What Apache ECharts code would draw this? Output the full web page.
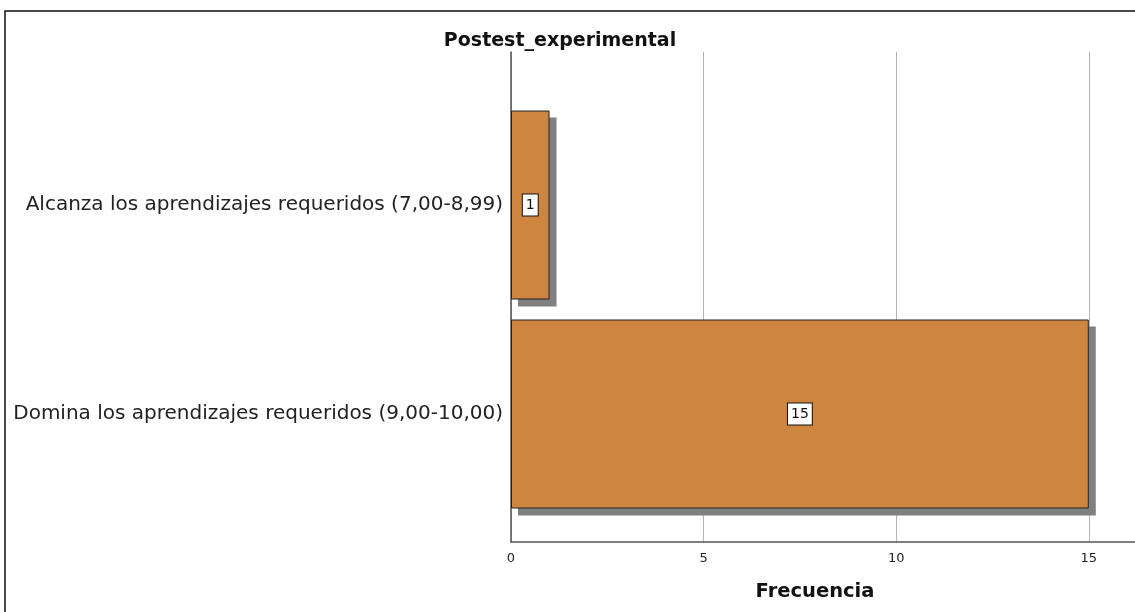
<!DOCTYPE html>
<html>
<head>
<meta charset="utf-8">
<script src="https://cdn.jsdelivr.net/npm/echarts@6/dist/echarts.min.js"></script>
<style>html,body{margin:0;padding:0;background:#fff;}#c{width:1135px;height:612px;}</style>
</head>
<body>
<div id="c"></div>
<script>
const title = 'Postest_experimental';
const categories = ['Alcanza los aprendizajes requeridos (7,00-8,99)', 'Domina los aprendizajes requeridos (9,00-10,00)'];
const frecuencias = [1, 15];
const xTicks = [0, 5, 10, 15];
const xName = 'Frecuencia';

const FONT = '"DejaVu Sans", Arial, sans-serif';
const chart = echarts.init(document.getElementById('c'), null, {renderer: 'canvas'});
const XMAX = 16.2;
const BARW = 189;
const SH = 7;
chart.setOption({
  animation: false,
  backgroundColor: '#ffffff',
  title: {
    text: title, left: 555, top: 27, textAlign: 'center',
    textStyle: {fontFamily: FONT, fontSize: 19, fontWeight: 'bold', color: '#111'}
  },
  graphic: [{
    type: 'rect', shape: {x: 5, y: 11, width: 1300, height: 800},
    style: {fill: 'none', stroke: '#111', lineWidth: 1.5}, silent: true, z: 100
  }],
  grid: [
    {left: 511, right: 0, top: 52, bottom: 70},
    {left: 511, right: 0, top: 100.5, bottom: 93.5}
  ],
  xAxis: [{
    gridIndex: 0, type: 'value', min: 0, max: XMAX, interval: 5,
    name: xName, nameLocation: 'middle', nameGap: 40,
    nameTextStyle: {fontFamily: FONT, fontSize: 19.5, fontWeight: 'bold', color: '#111', padding: [0, 16, 0, 0]},
    axisLine: {show: true, lineStyle: {color: '#555', width: 1.5}},
    axisTick: {show: false},
    axisLabel: {
      fontFamily: FONT, fontSize: 13, color: '#222', margin: 10, showMaxLabel: false,
      formatter: v => (xTicks.indexOf(v) >= 0 ? String(v) : '')
    },
    splitLine: {show: true, lineStyle: {color: '#b4b4b4', width: 1}}
  }, {
    gridIndex: 1, type: 'value', min: 0, max: XMAX, show: false
  }],
  yAxis: [{
    gridIndex: 0, type: 'value', min: 0, max: 1,
    axisLine: {show: true, lineStyle: {color: '#555', width: 1.5}},
    axisTick: {show: false}, axisLabel: {show: false}, splitLine: {show: false}
  }, {
    gridIndex: 1, type: 'category', data: categories, inverse: true,
    axisLine: {show: false}, axisTick: {show: false},
    axisLabel: {fontFamily: FONT, fontSize: 20, color: '#222', margin: 8}
  }],
  series: [{
    type: 'custom', xAxisIndex: 1, yAxisIndex: 1, z: 1, silent: true,
    data: frecuencias.map((v, i) => [v, i]),
    encode: {x: 0, y: 1},
    renderItem: function (params, api) {
      const p0 = api.coord([0, api.value(1)]);
      const p1 = api.coord([api.value(0), api.value(1)]);
      return {
        type: 'rect',
        shape: {x: p0[0] + SH, y: p0[1] - BARW / 2 + SH, width: p1[0] - p0[0], height: BARW},
        style: {fill: '#808080'}
      };
    }
  }, {
    type: 'bar', xAxisIndex: 1, yAxisIndex: 1, data: frecuencias, barWidth: BARW, z: 2,
    itemStyle: {color: '#cd853f', borderColor: '#222', borderWidth: 1},
    label: {
      show: true, position: 'inside', fontFamily: FONT, fontSize: 14, color: '#111',
      backgroundColor: '#fff', borderColor: '#111', borderWidth: 1, padding: [4, 3, 3, 3]
    }
  }]
});
</script>
</body>
</html>
